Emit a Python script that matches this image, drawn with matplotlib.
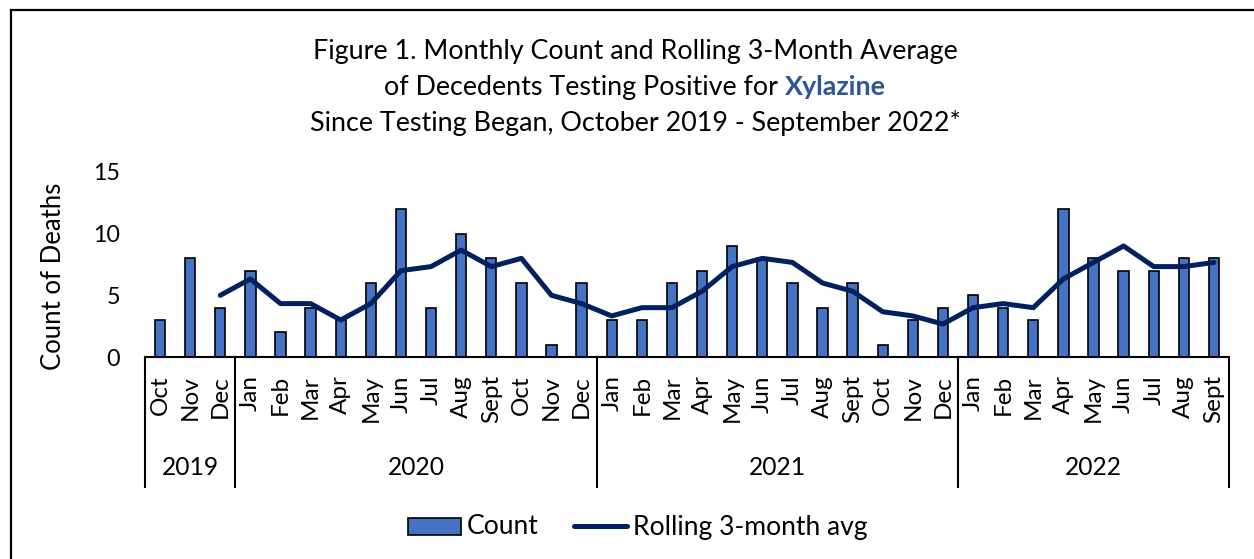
import matplotlib
matplotlib.use('Agg')
import matplotlib.pyplot as plt
from matplotlib.lines import Line2D
from matplotlib.patches import Rectangle
import matplotlib.transforms as mtransforms

# ---------------- data ----------------
months = ['Oct', 'Nov', 'Dec',
          'Jan', 'Feb', 'Mar', 'Apr', 'May', 'Jun', 'Jul', 'Aug', 'Sept', 'Oct', 'Nov', 'Dec',
          'Jan', 'Feb', 'Mar', 'Apr', 'May', 'Jun', 'Jul', 'Aug', 'Sept', 'Oct', 'Nov', 'Dec',
          'Jan', 'Feb', 'Mar', 'Apr', 'May', 'Jun', 'Jul', 'Aug', 'Sept']
years = ['2019', '2020', '2021', '2022']
months_per_year = [3, 12, 12, 9]
counts = [3, 8, 4,
          7, 2, 4, 3, 6, 12, 4, 10, 8, 6, 1, 6,
          3, 3, 6, 7, 9, 8, 6, 4, 6, 1, 3, 4,
          5, 4, 3, 12, 8, 7, 7, 8, 8]
rolling_avg = [None, None, 5.0,
               6.33, 4.33, 4.33, 3.0, 4.33, 7.0, 7.33, 8.67, 7.33, 8.0, 5.0, 4.33,
               3.33, 4.0, 4.0, 5.33, 7.33, 8.0, 7.67, 6.0, 5.33, 3.67, 3.33, 2.67,
               4.0, 4.33, 4.0, 6.33, 7.67, 9.0, 7.33, 7.33, 7.67]
yticks = [0, 5, 10, 15]

BAR_COLOR = '#4472C4'
LINE_COLOR = '#002060'
TITLE_BLUE = '#2F5597'

W, H = 1254, 559
plt.rcParams['font.family'] = ['Lato', 'DejaVu Sans']
fig = plt.figure(figsize=(W / 100, H / 100), dpi=100)
fig.patch.set_facecolor('white')
renderer = fig.canvas.get_renderer()


def fit(text, target_px, weight='normal'):
    t = fig.text(0, 0, text, fontsize=20, weight=weight)
    w = t.get_window_extent(renderer).width
    t.remove()
    return 20 * target_px / w


def fx(px):
    return px / W


def fy(py):
    return 1 - py / H


# ---------------- axes ----------------
ax = fig.add_axes([fx(145), fy(357), (1229 - 145) / W, (357 - 172) / H])
x = list(range(len(counts)))
ax.bar(x, counts, width=0.34, color=BAR_COLOR, edgecolor='black', linewidth=1.2, zorder=2)
xs = [i for i, v in enumerate(rolling_avg) if v is not None]
ys = [v for v in rolling_avg if v is not None]
ax.plot(xs, ys, color=LINE_COLOR, lw=3.6, solid_capstyle='round', solid_joinstyle='round', zorder=3)

ax.set_xlim(-0.5, len(counts) - 0.5)
ax.set_ylim(0, 15)
ax.set_yticks(yticks)
tick_fs = fit('15', 27)
ax.set_yticklabels([str(v) for v in yticks], fontsize=tick_fs)
ax.tick_params(axis='y', length=0, pad=18)

month_fs = fit('Dec', 43)
ax.set_xticks(x)
ax.set_xticklabels(months, rotation=90, fontsize=month_fs)
ax.tick_params(axis='x', length=0, pad=13)

for s in ['top', 'right', 'left']:
    ax.spines[s].set_visible(False)
ax.spines['bottom'].set_color('black')
ax.spines['bottom'].set_linewidth(1.5)

# category group separators and year labels
trans = mtransforms.blended_transform_factory(ax.transData, ax.transAxes)
sep_bottom = (357 - 487) / (357 - 172)
year_y = (357 - 468) / (357 - 172)
year_fs = fit('2019', 57)
start = -0.5
bounds = [start]
for n in months_per_year:
    bounds.append(bounds[-1] + n)
for b in bounds:
    ax.add_line(Line2D([b, b], [0, sep_bottom], transform=trans, color='black',
                       lw=1.5, clip_on=False))
for i, yr in enumerate(years):
    ax.text((bounds[i] + bounds[i + 1]) / 2, year_y, yr, transform=trans,
            ha='center', va='center', fontsize=year_fs)

# y label
fig.text(fx(54), fy(276), 'Count of Deaths', rotation=90, ha='center', va='center',
         fontsize=fit('Count of Deaths', 188))

# ---------------- title ----------------
title1 = 'Figure 1. Monthly Count and Rolling 3-Month Average'
title2a = 'of Decedents Testing Positive for'
title2b = 'Xylazine'
title3 = 'Since Testing Began, October 2019 - September 2022*'
tfs = fit(title1, 644)
cx = 635
fig.text(fx(cx), fy(59), title1, ha='center', va='baseline', fontsize=tfs)
fig.text(fx(cx), fy(131), title3, ha='center', va='baseline', fontsize=tfs)

# mixed-style second line
def width_of(text, weight='normal'):
    t = fig.text(0, 0, text, fontsize=tfs, weight=weight)
    w = t.get_window_extent(renderer).width
    t.remove()
    return w

wa = width_of(title2a)
wb = width_of(title2b, 'bold')
wsp = width_of('a a') - width_of('aa')
total = wa + wsp + wb
left = cx - total / 2
fig.text(fx(left), fy(95), title2a, ha='left', va='baseline', fontsize=tfs)
fig.text(fx(left + wa + wsp), fy(95), title2b, ha='left', va='baseline', fontsize=tfs,
         weight='bold', color=TITLE_BLUE)

# ---------------- legend ----------------
leg_fs = fit('Rolling 3-month avg', 235)
fig.add_artist(Rectangle((fx(408), fy(535)), 53 / W, 17 / H, facecolor=BAR_COLOR,
                         edgecolor='black', lw=1.2, transform=fig.transFigure))
fig.text(fx(467), fy(527), 'Count', ha='left', va='center', fontsize=leg_fs)
fig.add_artist(Line2D([fx(574), fx(627)], [fy(526), fy(526)], color=LINE_COLOR, lw=3.6,
                      solid_capstyle='round', transform=fig.transFigure))
fig.text(fx(633), fy(527), 'Rolling 3-month avg', ha='left', va='center', fontsize=leg_fs)

# ---------------- outer border ----------------
fig.add_artist(Line2D([fx(11), fx(1254)], [fy(10), fy(10)], color='black', lw=1.6,
                      transform=fig.transFigure))
fig.add_artist(Line2D([fx(11), fx(11)], [fy(10), fy(559)], color='black', lw=1.6,
                      transform=fig.transFigure))

fig.savefig('out.png', dpi=100, facecolor='white')
